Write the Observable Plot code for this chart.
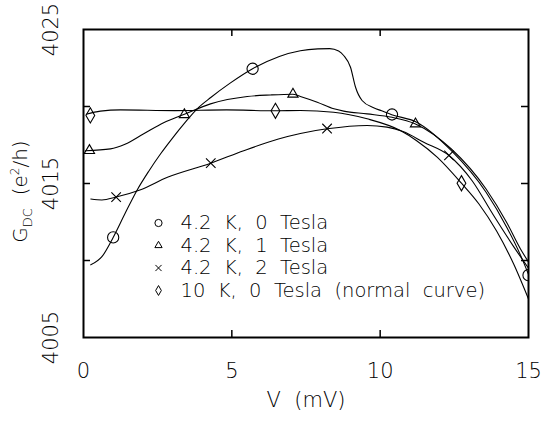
<!DOCTYPE html>
<html><head><meta charset="utf-8">
<script src="https://cdn.jsdelivr.net/npm/d3@7"></script>
<script src="https://cdn.jsdelivr.net/npm/@observablehq/plot@0.6"></script>
<style>
html,body{margin:0;padding:0;background:#fff;}
svg text{white-space:pre;}
</style></head><body><div id="chart"></div>
<script>
// ---- data (V in mV, G in e^2/h) ----
const seriesLabels = ["4.2  K,  0  Tesla", "4.2  K,  1  Tesla", "4.2  K,  2  Tesla", "10  K,  0  Tesla  (normal  curve)"];
const seriesSymbols = ["circle", "triangle", "times", "diamond"];

const v0T = [0.245, 0.62, 1.0, 1.4, 1.8, 2.2, 2.6, 3.0, 3.42, 3.83, 4.3, 4.93, 5.7, 6.6, 7.31, 7.9, 8.3, 8.6, 8.77, 9.0, 9.17, 9.39, 9.78, 10.05, 10.39, 11.23, 12.4, 13.57, 14.27, 14.73, 15.0];
const g0T = [4009.72, 4010.25, 4011.5, 4013.05, 4014.55, 4015.8, 4016.93, 4017.95, 4018.95, 4019.85, 4020.6, 4021.5, 4022.45, 4023.25, 4023.62, 4023.74, 4023.76, 4023.6, 4023.31, 4022.55, 4021.25, 4020.39, 4019.92, 4019.72, 4019.47, 4018.98, 4017.13, 4014.43, 4012.15, 4010.35, 4009.1];

const v1T = [0.07, 0.91, 1.4, 2.03, 2.7, 3.38, 4.28, 5.52, 6.3, 7.05, 7.31, 7.88, 8.44, 8.77, 9.56, 10.4, 11.19, 12.4, 13.57, 14.27, 14.73, 15.0];
const g1T = [4017.13, 4017.25, 4017.55, 4018.23, 4018.95, 4019.48, 4020.17, 4020.65, 4020.75, 4020.8, 4020.65, 4020.28, 4019.85, 4019.7, 4019.52, 4019.3, 4018.87, 4017.24, 4014.64, 4012.45, 4010.75, 4009.9];

const v2T = [0.245, 0.62, 1.1, 1.9, 2.83, 4.29, 5.4, 6.57, 7.31, 8.21, 9.56, 10.23, 10.77, 11.47, 12.32, 13.1, 13.8, 14.5, 15.0];
const g2T = [4013.99, 4013.93, 4014.12, 4014.58, 4015.4, 4016.32, 4017.13, 4017.89, 4018.25, 4018.55, 4018.77, 4018.66, 4018.37, 4017.68, 4016.82, 4015.18, 4013.0, 4010.9, 4009.5];

const v10K = [0.09, 0.57, 1.25, 3.07, 4.82, 6.47, 7.31, 8.43, 9.56, 10.68, 11.23, 11.93, 12.74, 13.33, 13.92, 14.5, 15.0];
const g10K = [4019.5, 4019.7, 4019.78, 4019.73, 4019.78, 4019.72, 4019.74, 4019.63, 4019.2, 4018.44, 4017.78, 4016.7, 4015.02, 4013.67, 4011.93, 4009.77, 4007.5];

const markV0T = [1.0, 5.7, 10.4, 15.0];
const markG0T = [4011.5, 4022.45, 4019.48, 4009.05];
const markV1T = [0.2, 3.4, 7.06, 11.19];
const markG1T = [4017.14, 4019.47, 4020.8, 4018.87];
const markV2T = [1.1, 4.29, 8.21, 12.32];
const markG2T = [4014.12, 4016.32, 4018.57, 4016.82];
const markV10K = [0.23, 6.47, 12.74];
const markG10K = [4019.42, 4019.72, 4015.02];

const xTickLabels = [0, 5, 10, 15];
const xMinorTicks = [5, 10];
const yTickLabels = [4005, 4015, 4025];
const yMinorTicks = [4010, 4015, 4020];
const xTitle = "V  (mV)";
const yTitle = "GDC  (e2/h)";

// ---- build ----
const zipPts = (vs, gs) => vs.map((v, i) => ({V: v, G: gs[i]}));
const curves = [zipPts(v0T, g0T), zipPts(v1T, g1T), zipPts(v2T, g2T), zipPts(v10K, g10K)];
const markers = [zipPts(markV0T, markG0T), zipPts(markV1T, markG1T), zipPts(markV2T, markG2T), zipPts(markV10K, markG10K)];
const markerR = [5.6, 3.8, 4.4, 4.6];
const legendR = [3.6, 2.7, 2.9, 3.0];

const FONT = "DejaVu Sans";
const marks = [];
curves.forEach(c => marks.push(Plot.line(c, {x: "V", y: "G", curve: "monotone-x", stroke: "black", strokeWidth: 1.1})));
markers.forEach((m, i) => marks.push(Plot.dot(m, {x: "V", y: "G", symbol: seriesSymbols[i], r: markerR[i], stroke: "black", fill: "none", strokeWidth: 1.1, clip: true})));

// inward ticks
marks.push(Plot.tickX(xMinorTicks, {x: d => d, insetTop: 301, stroke: "black", strokeWidth: 1.5}));
marks.push(Plot.tickX(xMinorTicks, {x: d => d, insetBottom: 301, stroke: "black", strokeWidth: 1.5}));
marks.push(Plot.tickY(yMinorTicks, {y: d => d, insetRight: 438, stroke: "black", strokeWidth: 1.5}));
marks.push(Plot.tickY(yMinorTicks, {y: d => d, insetLeft: 438, stroke: "black", strokeWidth: 1.5}));

// tick labels
marks.push(Plot.axisX({ticks: xTickLabels, tickSize: 0, tickPadding: 26, label: null, fontSize: 21, tickFormat: d => String(d)}));
marks.push(Plot.axisY({ticks: yTickLabels, tickSize: 0, tickRotate: -90, tickPadding: 26, label: null, fontSize: 21, tickFormat: d => String(d)}));

// axis titles
marks.push(Plot.text([xTitle], {text: d => d, frameAnchor: "bottom", dy: 63, fontSize: 21, lineAnchor: "middle"}));
marks.push(Plot.text([yTitle], {text: d => d, frameAnchor: "left", dx: -63, dy: 8, rotate: -90, fontSize: 20, textAnchor: "middle", lineAnchor: "middle"}));

// legend inside plot
seriesLabels.forEach((lab, i) => {
  marks.push(Plot.dot([lab], {frameAnchor: "top-left", dx: 75, dy: 193.5 + 22.5 * i, symbol: seriesSymbols[i], r: legendR[i], stroke: "black", fill: "none", strokeWidth: 1}));
  marks.push(Plot.text([lab], {text: d => d, frameAnchor: "top-left", dx: 97, dy: 193.5 + 22.5 * i, textAnchor: "start", lineAnchor: "middle", fontSize: 19.5}));
});

marks.push(Plot.frame({stroke: "black", strokeWidth: 2}));

const chart = Plot.plot({
  width: 544, height: 421,
  marginLeft: 83, marginRight: 16, marginTop: 29, marginBottom: 84,
  x: {domain: [0, 15]},
  y: {domain: [4005, 4025]},
  style: {fontFamily: FONT, fontSize: "21px", fontWeight: 200, color: "black", background: "white"},
  marks
});
document.getElementById("chart").appendChild(chart);

// subscript / superscript in y title
d3.select(chart).selectAll("text").filter(function() { return this.textContent === yTitle; }).each(function() {
  const t = d3.select(this);
  t.text(null);
  t.append("tspan").text("G");
  t.append("tspan").attr("dy", 5).attr("font-size", 13).text("DC");
  t.append("tspan").attr("dy", -5).text("  (e");
  t.append("tspan").attr("dy", -8).attr("font-size", 12).text("2");
  t.append("tspan").attr("dy", 8).text("/h)");
});
</script></body></html>
